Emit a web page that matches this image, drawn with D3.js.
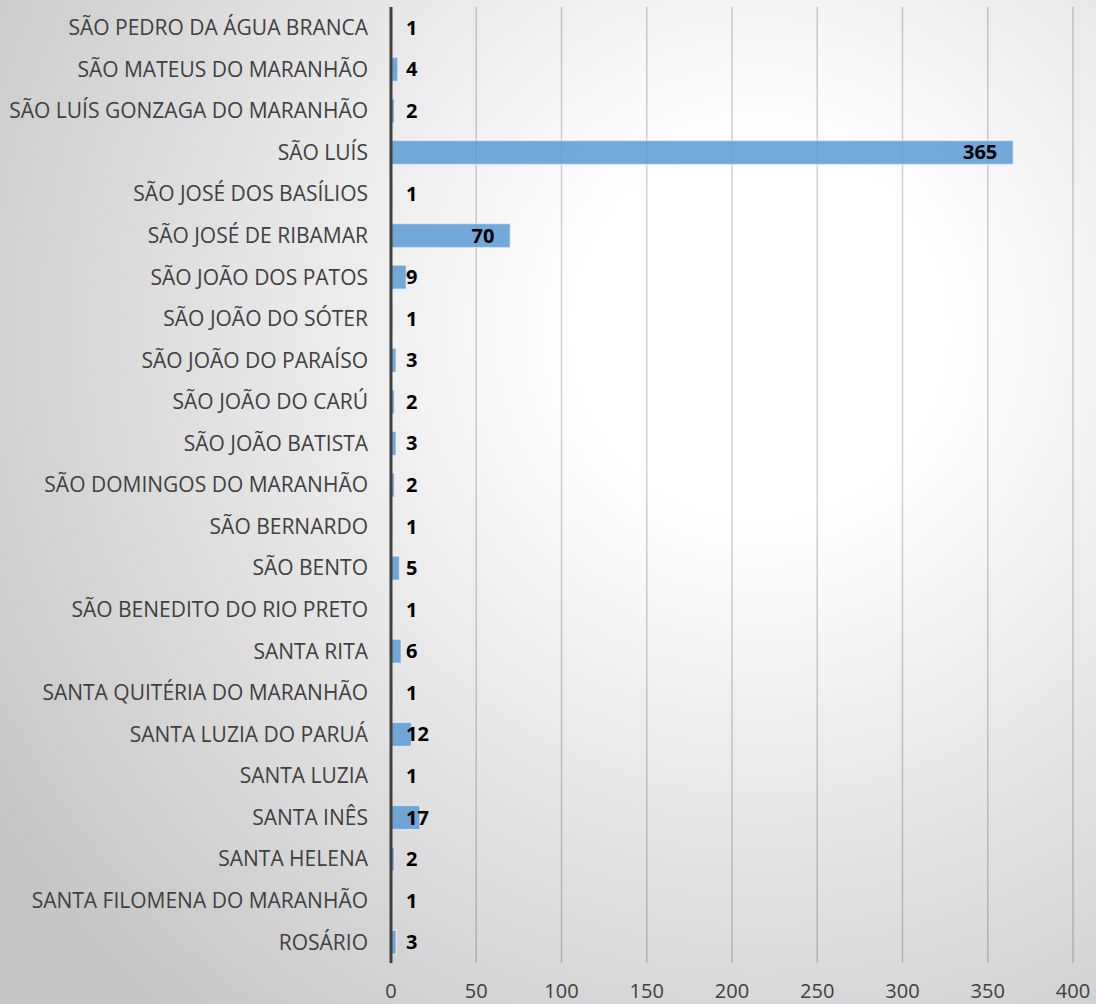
<!DOCTYPE html>
<html>
<head>
<meta charset="utf-8">
<script src="https://cdn.jsdelivr.net/npm/d3@7"></script>
<style>
  html, body { margin: 0; padding: 0; }
  body { width: 1096px; height: 1004px; overflow: hidden; }
  .cat-label { font-family: "Open Sans", sans-serif; font-size: 21px; fill: #404040; }
  .val-label { font-family: "Open Sans", sans-serif; font-size: 20px; font-weight: bold; fill: #000; }
  .tick-label { font-family: "Open Sans", sans-serif; font-size: 20px; fill: #404040; }
</style>
</head>
<body>
<div id="chart"></div>
<script>
// municipios, de cima para baixo
const categories = [
  "SÃO PEDRO DA ÁGUA BRANCA",
  "SÃO MATEUS DO MARANHÃO",
  "SÃO LUÍS GONZAGA DO MARANHÃO",
  "SÃO LUÍS",
  "SÃO JOSÉ DOS BASÍLIOS",
  "SÃO JOSÉ DE RIBAMAR",
  "SÃO JOÃO DOS PATOS",
  "SÃO JOÃO DO SÓTER",
  "SÃO JOÃO DO PARAÍSO",
  "SÃO JOÃO DO CARÚ",
  "SÃO JOÃO BATISTA",
  "SÃO DOMINGOS DO MARANHÃO",
  "SÃO BERNARDO",
  "SÃO BENTO",
  "SÃO BENEDITO DO RIO PRETO",
  "SANTA RITA",
  "SANTA QUITÉRIA DO MARANHÃO",
  "SANTA LUZIA DO PARUÁ",
  "SANTA LUZIA",
  "SANTA INÊS",
  "SANTA HELENA",
  "SANTA FILOMENA DO MARANHÃO",
  "ROSÁRIO"
];
const values = [1, 4, 2, 365, 1, 70, 9, 1, 3, 2, 3, 2, 1, 5, 1, 6, 1, 12, 1, 17, 2, 1, 3];
const xTicks = [0, 50, 100, 150, 200, 250, 300, 350, 400];

const width = 1096, height = 1004;
const margin = { top: 7, right: 23, bottom: 41, left: 391 };

const svg = d3.select("#chart").append("svg")
  .attr("width", width)
  .attr("height", height);

// fundo com gradiente radial
const defs = svg.append("defs");
const grad = defs.append("radialGradient")
  .attr("id", "bg")
  .attr("gradientUnits", "userSpaceOnUse")
  .attr("cx", 760).attr("cy", 330).attr("r", 900);
grad.append("stop").attr("offset", "0%").attr("stop-color", "#ffffff");
grad.append("stop").attr("offset", "20%").attr("stop-color", "#ffffff");
grad.append("stop").attr("offset", "100%").attr("stop-color", "#c6c6c6");
svg.append("rect").attr("width", width).attr("height", height).attr("fill", "url(#bg)");

const x = d3.scaleLinear()
  .domain([0, 400])
  .range([margin.left, width - margin.right]);

const y = d3.scaleBand()
  .domain(categories)
  .range([margin.top, height - margin.bottom])
  .paddingInner(0.42)
  .paddingOuter(0.21);

// linhas de grade
svg.append("g")
  .selectAll("line")
  .data(xTicks.slice(1))
  .join("line")
  .attr("x1", d => x(d)).attr("x2", d => x(d))
  .attr("y1", margin.top).attr("y2", height - margin.bottom)
  .attr("stroke", "#000")
  .attr("stroke-opacity", 0.18)
  .attr("stroke-width", 1.5);

// barras
svg.append("g")
  .selectAll("rect")
  .data(values)
  .join("rect")
  .attr("x", x(0))
  .attr("y", (d, i) => y(categories[i]))
  .attr("width", d => x(d) - x(0))
  .attr("height", y.bandwidth())
  .attr("fill", "#5b9bd5")
  .attr("fill-opacity", 0.85)
  .attr("stroke", "#ffffff")
  .attr("stroke-opacity", 0.5)
  .attr("stroke-width", 1.5);

// eixo vertical
svg.append("line")
  .attr("x1", x(0)).attr("x2", x(0))
  .attr("y1", margin.top).attr("y2", height - margin.bottom)
  .attr("stroke", "#404040")
  .attr("stroke-width", 3);

// rotulos das categorias
svg.append("g")
  .selectAll("text")
  .data(categories)
  .join("text")
  .attr("class", "cat-label")
  .attr("x", x(0) - 23)
  .attr("y", d => y(d) + y.bandwidth() / 2)
  .attr("dy", "0.35em")
  .attr("text-anchor", "end")
  .text(d => d);

// rotulos de valores
svg.append("g")
  .selectAll("text")
  .data(values)
  .join("text")
  .attr("class", "val-label")
  .attr("y", (d, i) => y(categories[i]) + y.bandwidth() / 2)
  .attr("dy", "0.35em")
  .each(function (d) {
    const t = d3.select(this).text(d);
    const inside = x(d) - x(0) > 60;
    t.attr("x", inside ? x(d) - 16 : x(0) + 15)
      .attr("text-anchor", inside ? "end" : "start");
  });

// rotulos do eixo x
svg.append("g")
  .selectAll("text")
  .data(xTicks)
  .join("text")
  .attr("class", "tick-label")
  .attr("x", d => x(d))
  .attr("y", height - 6)
  .attr("text-anchor", "middle")
  .text(d => d);
</script>
</body>
</html>
